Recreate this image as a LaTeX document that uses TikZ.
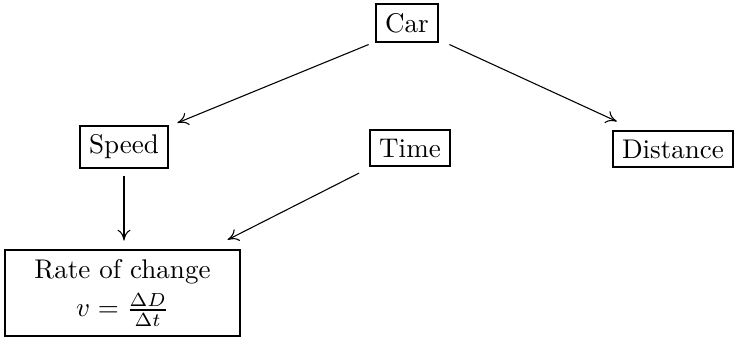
\documentclass[tikz,border=0pt]{standalone}
\usetikzlibrary{arrows.meta}
\begin{document}
\begin{tikzpicture}[x=0.37pt,y=-0.37pt,
  box/.style={draw,line width=0.8pt,inner sep=3.33pt,align=center},
  arr/.style={-{To[length=4pt,width=4.8pt]},line width=0.4pt}]
\useasboundingbox (0,0) rectangle (737,339);
\node[box] (car) at (407,23) {Car};
\node[box] (speed) at (124,147) {Speed};
\node[box] (time) at (410,148) {Time};
\node[box] (dist) at (673,149) {Distance};
\node[box,minimum width=87pt,minimum height=32pt] (rate) at (122.5,293)
  {Rate of change\\[2pt] $v=\frac{\Delta D}{\Delta t}$};
\draw[arr] ([xshift=-2.4pt,yshift=-0.6pt]car.south west) -- ([xshift=3.1pt,yshift=0.7pt]speed.north east);
\draw[arr] ([xshift=3.9pt,yshift=-0.6pt]car.south east) -- ([xshift=1.8pt,yshift=3pt]dist.north west);
\draw[arr] ([yshift=-2.6pt]speed.south) -- ([yshift=3pt]rate.north -| speed.south);
\draw[arr] ([xshift=-3.7pt,yshift=-2.1pt]time.south west) -- ([xshift=-5pt,yshift=3.3pt]rate.north east);
\end{tikzpicture}
\end{document}
